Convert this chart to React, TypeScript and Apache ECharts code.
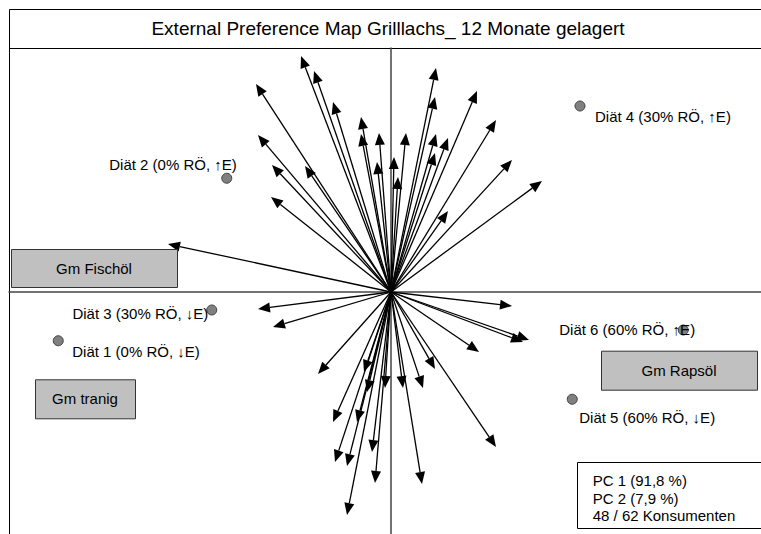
import React, { useEffect, useRef } from "react";
import * as echarts from "echarts";

// Consumer preference vectors (PC1, PC2 loadings)
const arrowX = [
  -0.36, -0.308, -0.54, -0.232, -0.12, -0.532, -0.12, -0.048, -0.476, -0.344,
  -0.056, 0.012, 0.028, -0.48, -0.892, 0.18, 0.344, 0.176, 0.42, 0.06,
  0.18, 0.228, 0.484, 0.176, 0.604, 0.228, -0.532, -0.472, 0.484, 0.552,
  0.528, 0.352, -0.292, -0.108, 0.176, -0.096, -0.024, 0.048, 0.128, -0.232,
  -0.136, 0.42, -0.076, -0.224, -0.176, -0.064, 0.124, -0.176,
];
const arrowY = [
  0.944, 0.884, 0.832, 0.76, 0.7, 0.628, 0.632, 0.636, 0.508, 0.504,
  0.52, 0.54, 0.46, 0.38, 0.192, 0.896, 0.804, 0.78, 0.688, 0.636,
  0.632, 0.616, 0.528, 0.556, 0.444, 0.324, -0.068, -0.14, -0.056, -0.192,
  -0.2, -0.24, -0.328, -0.32, -0.308, -0.4, -0.384, -0.384, -0.384, -0.52,
  -0.52, -0.62, -0.64, -0.68, -0.696, -0.764, -0.768, -0.892,
];

// Products (diets)
const productNames = [
  "Diät 1 (0% RÖ, ↓E)",
  "Diät 2 (0% RÖ, ↑E)",
  "Diät 3 (30% RÖ, ↓E)",
  "Diät 4 (30% RÖ, ↑E)",
  "Diät 5 (60% RÖ, ↓E)",
  "Diät 6 (60% RÖ, ↑E)",
];
const productX = [-1.331, -0.657, -0.717, 0.756, 0.725, 1.169];
const productY = [-0.195, 0.455, -0.072, 0.744, -0.429, -0.152];

const attributeNames = ["Gm Fischöl", "Gm tranig", "Gm Rapsöl"];
const titleText = "External Preference Map Grilllachs_ 12 Monate gelagert";
const legendLines = ["PC 1 (91,8 %)", "PC 2 (7,9 %)", "48 / 62 Konsumenten"];

// layout / styling (not data)
const FONT = "'Liberation Sans', Arial, sans-serif";
const labelLayout = [
  { align: "left", offset: [14, 11] },
  { align: "right", offset: [10, -14] },
  { align: "right", offset: [-3.5, 3] },
  { align: "left", offset: [15, 10.7] },
  { align: "left", offset: [7, 18] },
  { align: "left", offset: [-124, -1] },
];
const boxLayout = [
  { x: 3, y: 241, w: 166, h: 38 },
  { x: 27, y: 371.3, w: 100, h: 39 },
  { x: 593, y: 342.7, w: 156, h: 39 },
];

export default function App() {
  const ref = useRef<HTMLDivElement>(null);
  useEffect(() => {
    if (!ref.current) return;
    const chart = echarts.init(ref.current, null, { renderer: "svg" });
    const arrowData = arrowX.map((x, i) => [x, arrowY[i]]);
    const productData = productNames.map((n, i) => ({
      name: n,
      value: [productX[i], productY[i]],
      label: {
        show: true,
        position: "inside",
        formatter: "{b}",
        align: labelLayout[i].align,
        verticalAlign: "middle",
        offset: labelLayout[i].offset,
        color: "#000",
        textBorderWidth: 0,
        fontSize: 15,
        fontFamily: FONT,
      },
    }));

    const graphics: any[] = [
      {
        type: "rect",
        shape: { x: 1.5, y: 1.5, width: 800, height: 800 },
        style: { fill: "none", stroke: "#000", lineWidth: 1 },
        z: 0,
      },
      {
        type: "line",
        shape: { x1: 1, y1: 40.5, x2: 800, y2: 40.5 },
        style: { stroke: "#000", lineWidth: 1 },
      },
      {
        type: "text",
        x: 380,
        y: 20,
        style: {
          text: titleText,
          fontSize: 19,
          fontFamily: FONT,
          fill: "#000",
          align: "center",
          verticalAlign: "middle",
        },
      },
    ];
    attributeNames.forEach((n, i) => {
      const b = boxLayout[i];
      graphics.push({
        type: "rect",
        shape: { x: b.x + 0.5, y: b.y + 0.5, width: b.w, height: b.h },
        style: { fill: "#c0c0c0", stroke: "#333", lineWidth: 1 },
        z: 5,
      });
      graphics.push({
        type: "text",
        x: b.x + b.w / 2,
        y: b.y + b.h / 2,
        style: {
          text: n,
          fontSize: 15,
          fontFamily: FONT,
          fill: "#000",
          align: "center",
          verticalAlign: "middle",
        },
        z: 6,
      });
    });
    graphics.push({
      type: "rect",
      shape: { x: 569.5, y: 454.5, width: 250, height: 66 },
      style: { fill: "#fff", stroke: "#000", lineWidth: 1 },
      z: 5,
    });
    legendLines.forEach((t, i) => {
      graphics.push({
        type: "text",
        x: 584.7,
        y: 472.7 + i * 17.5,
        style: {
          text: t,
          fontSize: 15,
          fontFamily: FONT,
          fill: "#000",
          align: "left",
          verticalAlign: "middle",
        },
        z: 6,
      });
    });

    chart.setOption({
      animation: false,
      grid: { left: 1, right: 0, top: 40, bottom: 0 },
      xAxis: {
        type: "value",
        min: -1.528,
        max: 1.48,
        axisLine: { show: true, onZero: true, lineStyle: { color: "#444", width: 1.5 } },
        axisTick: { show: false },
        axisLabel: { show: false },
        splitLine: { show: false },
      },
      yAxis: {
        type: "value",
        min: -0.968,
        max: 0.976,
        axisLine: { show: true, onZero: true, lineStyle: { color: "#444", width: 1.5 } },
        axisTick: { show: false },
        axisLabel: { show: false },
        splitLine: { show: false },
      },
      series: [
        {
          type: "custom",
          data: arrowData,
          clip: false,
          z: 3,
          renderItem: (params: any, api: any) => {
            const s = api.coord([0, 0]);
            const e = api.coord([api.value(0), api.value(1)]);
            const dx = e[0] - s[0];
            const dy = e[1] - s[1];
            const len = Math.hypot(dx, dy);
            const ux = dx / len;
            const uy = dy / len;
            const L = 12;
            const W = 5;
            const bx = e[0] - ux * L;
            const by = e[1] - uy * L;
            return {
              type: "group",
              children: [
                {
                  type: "line",
                  shape: { x1: s[0], y1: s[1], x2: bx, y2: by },
                  style: { stroke: "#000", lineWidth: 1.3 },
                },
                {
                  type: "polygon",
                  shape: {
                    points: [
                      [e[0], e[1]],
                      [bx - uy * W, by + ux * W],
                      [bx + uy * W, by - ux * W],
                    ],
                  },
                  style: { fill: "#000" },
                },
              ],
            };
          },
        },
        {
          type: "scatter",
          data: productData,
          symbolSize: 10,
          z: 4,
          itemStyle: { color: "#808080", borderColor: "#404040", borderWidth: 1, opacity: 1 },
        },
      ],
      graphic: graphics,
    });
    return () => chart.dispose();
  }, []);
  return (
    <div
      ref={ref}
      style={{ position: "absolute", left: 8, top: 8, width: 753, height: 526, overflow: "hidden" }}
    />
  );
}
